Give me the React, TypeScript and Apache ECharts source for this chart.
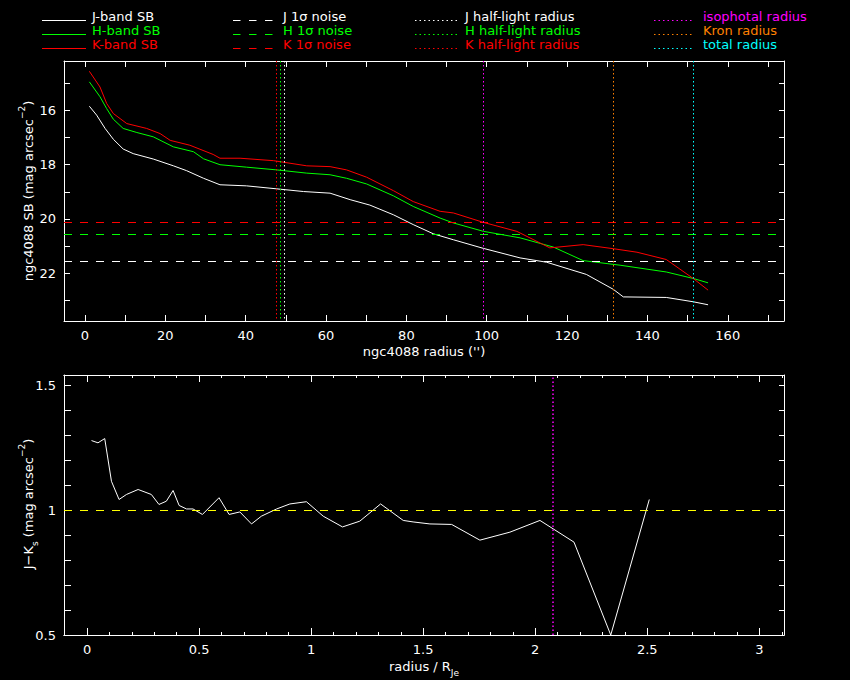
import { useEffect, useRef } from "react";
import * as echarts from "echarts";

const FONT = '"DejaVu Sans", sans-serif';

// ---- surface brightness profiles: [radius ("), mag arcsec^-2] ----
const jBandSB: [number, number][] = [
  [1.08, 15.84], [2.9, 16.17], [5.0, 16.66], [7.05, 17.06], [9.5, 17.42], [12.0, 17.59],
  [17.0, 17.79], [22.0, 18.04], [25.3, 18.22], [29.5, 18.5], [33.6, 18.74], [40.2, 18.78],
  [47.7, 18.89], [54.4, 18.99], [61.0, 19.05], [66.0, 19.29], [70.9, 19.49], [76.8, 19.85],
  [81.7, 20.21], [86.7, 20.55], [91.7, 20.77], [99.2, 21.09], [108.3, 21.44], [114.9, 21.6],
  [124.8, 22.05], [131.5, 22.6], [134.0, 22.88], [144.7, 22.9], [151.4, 23.06], [155.1, 23.17],
];
const hBandSB: [number, number][] = [
  [1.08, 14.94], [3.73, 15.49], [5.4, 15.93], [7.05, 16.32], [9.5, 16.66], [12.9, 16.81],
  [17.0, 16.97], [22.0, 17.34], [27.0, 17.52], [29.5, 17.78], [33.6, 18.0], [40.2, 18.09],
  [47.7, 18.19], [55.2, 18.31], [61.0, 18.37], [65.1, 18.5], [70.1, 18.71], [76.8, 19.15],
  [81.7, 19.54], [88.4, 19.97], [91.7, 20.15], [99.2, 20.46], [108.3, 20.7], [116.6, 21.04],
  [124.0, 21.54], [133.2, 21.71], [144.7, 21.96], [151.4, 22.2], [155.1, 22.36],
];
const kBandSB: [number, number][] = [
  [1.08, 14.55], [3.73, 15.13], [5.4, 15.74], [7.05, 16.11], [10.4, 16.48], [15.35, 16.66],
  [18.7, 16.85], [21.2, 17.1], [26.1, 17.28], [31.9, 17.62], [33.6, 17.76], [38.6, 17.76],
  [46.9, 17.85], [55.2, 18.04], [61.0, 18.07], [65.1, 18.19], [70.1, 18.46], [76.8, 18.96],
  [81.7, 19.36], [88.4, 19.72], [91.7, 19.78], [99.2, 20.13], [107.5, 20.46], [115.7, 21.07],
  [124.0, 20.95], [131.5, 21.1], [137.4, 21.23], [144.7, 21.5], [151.4, 22.2], [155.1, 22.63],
];

// ---- J-Ks colour profile: [radius / R_Je, J-Ks] ----
const jkColour: [number, number][] = [
  [0.02, 1.279], [0.049, 1.27], [0.079, 1.287], [0.109, 1.116], [0.143, 1.043], [0.176, 1.063],
  [0.228, 1.083], [0.287, 1.063], [0.321, 1.023], [0.354, 1.036], [0.384, 1.079], [0.411, 1.019],
  [0.444, 1.005], [0.473, 1.005], [0.515, 0.983], [0.589, 1.05], [0.634, 0.983], [0.682, 0.993],
  [0.734, 0.945], [0.778, 0.976], [0.846, 1.005], [0.905, 1.025], [0.979, 1.034], [1.054, 0.976],
  [1.14, 0.933], [1.217, 0.956], [1.31, 1.025], [1.411, 0.959], [1.455, 0.953], [1.53, 0.945],
  [1.627, 0.943], [1.753, 0.88], [1.887, 0.912], [2.021, 0.959], [2.173, 0.872], [2.337, 0.5],
  [2.509, 1.043],
];

// ---- reference levels (J, H, K order) ----
const noiseLevels = [21.58, 20.58, 20.11];
const halfLightRadii = [49.7, 48.6, 47.5];
const apertureRadii = [99.2, 131.5, 151.4]; // isophotal, Kron, total
const isophotalRadiusNorm = 2.078;
const colourReference = 1.0;

// ---- colours & legend labels ----
const bandColours = ["#ffffff", "#00ff00", "#ff0000"];
const apertureColours = ["#ff00ff", "#ff8000", "#00ffff"];
const legendSB = ["J-band SB", "H-band SB", "K-band SB"];
const legendNoise = ["J 1σ noise", "H 1σ noise", "K 1σ noise"];
const legendHalf = ["J half-light radius", "H half-light radius", "K half-light radius"];
const legendAperture = ["isophotal radius", "Kron radius", "total radius"];

// ---- ticks ----
const sbXTicks = [0, 10, 20, 30, 40, 50, 60, 70, 80, 90, 100, 110, 120, 130, 140, 150, 160, 170];
const sbXLabels = [0, 20, 40, 60, 80, 100, 120, 140, 160];
const sbYTicks = [15, 16, 17, 18, 19, 20, 21, 22, 23];
const sbYLabels = [16, 18, 20, 22];
const jkXMajor = [0, 0.5, 1, 1.5, 2, 2.5, 3];
const jkXMinor = [
  -0.1, 0.1, 0.2, 0.3, 0.4, 0.6, 0.7, 0.8, 0.9, 1.1, 1.2, 1.3, 1.4, 1.6, 1.7, 1.8, 1.9,
  2.1, 2.2, 2.3, 2.4, 2.6, 2.7, 2.8, 2.9, 3.1,
];
const jkYTicks = [0.5, 0.6, 0.7, 0.8, 0.9, 1, 1.1, 1.2, 1.3, 1.4, 1.5];
const jkYLabels = [0.5, 1, 1.5];

const DASH = [8, 8];
const DOT = [1.5, 2.5];

function axis(o: {
  gridIndex: number;
  position: string;
  min: number;
  max: number;
  ticks: number[];
  labels?: number[];
  tickLen: number;
  inverse?: boolean;
}) {
  return {
    type: "value",
    gridIndex: o.gridIndex,
    position: o.position,
    min: o.min,
    max: o.max,
    inverse: !!o.inverse,
    axisLine: { show: true, onZero: false, lineStyle: { color: "#ffffff", width: 1 } },
    axisTick: {
      show: true,
      inside: true,
      length: o.tickLen,
      customValues: o.ticks,
      lineStyle: { color: "#ffffff", width: 1 },
    },
    axisLabel: o.labels
      ? { show: true, customValues: o.labels, color: "#ffffff", fontFamily: FONT, fontSize: 13, margin: 8 }
      : { show: false },
    splitLine: { show: false },
    minorTick: { show: false },
    minorSplitLine: { show: false },
    axisPointer: { show: false },
  };
}

function buildOption() {
  const sbX = { min: -5.23, max: 174 };
  const sbY = { min: 14.17, max: 23.77 };
  const jkX = { min: -0.1027, max: 3.11 };
  const jkY = { min: 0.5, max: 1.5417 };

  const xAxis = [
    axis({ gridIndex: 0, position: "bottom", ...sbX, ticks: sbXTicks, labels: sbXLabels, tickLen: 6 }),
    axis({ gridIndex: 0, position: "top", ...sbX, ticks: sbXTicks, tickLen: 6 }),
    axis({ gridIndex: 1, position: "bottom", ...jkX, ticks: jkXMajor, labels: jkXMajor, tickLen: 7 }),
    axis({ gridIndex: 1, position: "bottom", ...jkX, ticks: jkXMinor, tickLen: 3 }),
    axis({ gridIndex: 1, position: "top", ...jkX, ticks: jkXMajor, tickLen: 7 }),
    axis({ gridIndex: 1, position: "top", ...jkX, ticks: jkXMinor, tickLen: 3 }),
  ];
  const yAxis = [
    axis({ gridIndex: 0, position: "left", ...sbY, ticks: sbYTicks, labels: sbYLabels, tickLen: 6, inverse: true }),
    axis({ gridIndex: 0, position: "right", ...sbY, ticks: sbYTicks, tickLen: 5, inverse: true }),
    axis({ gridIndex: 1, position: "left", ...jkY, ticks: jkYTicks, labels: jkYLabels, tickLen: 7 }),
    axis({ gridIndex: 1, position: "right", ...jkY, ticks: jkYTicks, tickLen: 5 }),
  ];

  const profiles = [jBandSB, hBandSB, kBandSB];
  const series: any[] = profiles.map((data, i) => {
    const markData: any[] = [
      { yAxis: noiseLevels[i], lineStyle: { color: bandColours[i], type: DASH, width: 1 } },
      { xAxis: halfLightRadii[i], lineStyle: { color: bandColours[i], type: DOT, width: 1 } },
    ];
    if (i === 2) {
      apertureRadii.forEach((r, k) =>
        markData.push({ xAxis: r, lineStyle: { color: apertureColours[k], type: DOT, width: 1 } })
      );
    }
    return {
      type: "line",
      name: legendSB[i],
      xAxisIndex: 0,
      yAxisIndex: 0,
      data,
      symbol: "none",
      showSymbol: false,
      lineStyle: { color: bandColours[i], width: 1 },
      itemStyle: { color: bandColours[i] },
      emphasis: { disabled: true },
      z: 3,
      markLine: {
        silent: true,
        symbol: ["none", "none"],
        label: { show: false },
        emphasis: { disabled: true },
        animation: false,
        data: markData,
      },
    };
  });

  series.push({
    type: "line",
    name: "J-Ks",
    xAxisIndex: 2,
    yAxisIndex: 2,
    data: jkColour,
    symbol: "none",
    showSymbol: false,
    lineStyle: { color: "#ffffff", width: 1 },
    itemStyle: { color: "#ffffff" },
    emphasis: { disabled: true },
    z: 3,
    markLine: {
      silent: true,
      symbol: ["none", "none"],
      label: { show: false },
      emphasis: { disabled: true },
      animation: false,
      data: [
        { yAxis: colourReference, lineStyle: { color: "#ffff00", type: DASH, width: 1 } },
        { xAxis: isophotalRadiusNorm, lineStyle: { color: "#ff00ff", type: DOT, width: 1.5 } },
      ],
    },
  });

  // ---- legend drawn as graphic ----
  const rowText = [16.7, 30.4, 44.2];
  const rowLine = [20.5, 34.5, 48.5];
  const cols = [
    { x1: 42, x2: 86, tx: 92, dash: null as number[] | null, labels: legendSB, colours: bandColours },
    { x1: 233, x2: 277, tx: 283, dash: [7.5, 8.5], labels: legendNoise, colours: bandColours },
    { x1: 415, x2: 457, tx: 465, dash: [1.5, 3], labels: legendHalf, colours: bandColours },
    { x1: 654, x2: 694, tx: 703, dash: [1.5, 3], labels: legendAperture, colours: apertureColours },
  ];
  const graphic: any[] = [];
  cols.forEach((c) => {
    c.labels.forEach((label, r) => {
      graphic.push({
        type: "line",
        silent: true,
        shape: { x1: c.x1, y1: rowLine[r], x2: c.x2, y2: rowLine[r] },
        style: { stroke: c.colours[r], lineWidth: 1, lineDash: c.dash || undefined },
      });
      graphic.push({
        type: "text",
        silent: true,
        x: c.tx,
        y: rowText[r],
        style: {
          text: label,
          fill: c.colours[r],
          font: `13px ${FONT}`,
          align: "left",
          verticalAlign: "middle",
        },
      });
    });
  });

  const rich = {
    m: { fontFamily: FONT, fontSize: 13, color: "#ffffff", lineHeight: 22, verticalAlign: "middle" },
    sup: { fontFamily: FONT, fontSize: 9, color: "#ffffff", lineHeight: 9, verticalAlign: "top" },
    sub: { fontFamily: FONT, fontSize: 9, color: "#ffffff", lineHeight: 9, verticalAlign: "bottom" },
  };
  const title = (text: string, x: number, y: number, rotation = 0) => ({
    type: "text",
    silent: true,
    x,
    y,
    rotation,
    style: { text, rich, align: "center", verticalAlign: "middle", fill: "#ffffff" },
  });
  graphic.push(title("{m|ngc4088 radius ('')}", 424, 351));
  graphic.push(title("{m|ngc4088 SB (mag arcsec}{sup|−2}{m|)}", 28, 191, Math.PI / 2));
  graphic.push(title("{m|radius / R}{sub|Je}", 424, 666));
  graphic.push(title("{m|J−K}{sub|s}{m| (mag arcsec}{sup|−2}{m|)}", 28, 504, Math.PI / 2));

  return {
    animation: false,
    backgroundColor: "#000000",
    textStyle: { fontFamily: FONT },
    grid: [
      { left: 64, top: 61, width: 720, height: 260, show: false, containLabel: false },
      { left: 64, top: 375, width: 720, height: 260, show: false, containLabel: false },
    ],
    xAxis,
    yAxis,
    series,
    graphic,
  };
}

export default function App() {
  const ref = useRef<HTMLDivElement>(null);
  useEffect(() => {
    if (!ref.current) return;
    const chart = echarts.init(ref.current, null, { renderer: "svg" });
    chart.setOption(buildOption() as any);
    return () => chart.dispose();
  }, []);
  return (
    <div
      ref={ref}
      style={{ position: "fixed", left: 0, top: 0, width: 850, height: 680, background: "#000" }}
    />
  );
}
